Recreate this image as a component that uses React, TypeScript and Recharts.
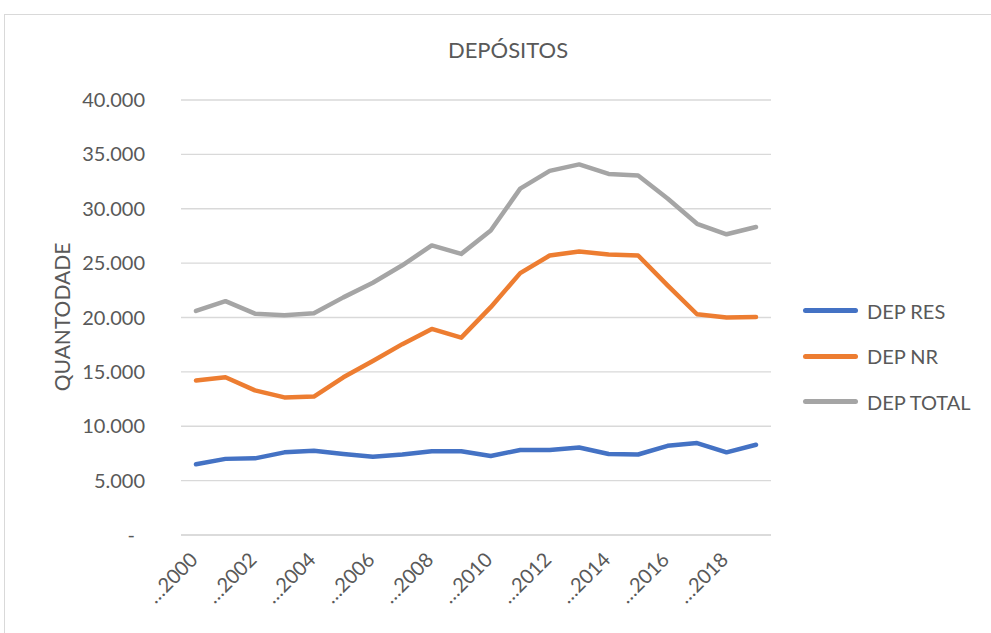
import React from 'react';
import { LineChart, Line, XAxis, YAxis, CartesianGrid, Label } from 'recharts';

const years = [
  '2000', '2001', '2002', '2003', '2004', '2005', '2006', '2007', '2008', '2009',
  '2010', '2011', '2012', '2013', '2014', '2015', '2016', '2017', '2018', '2019',
];
const depRes = [
  6500, 7000, 7050, 7600, 7750, 7450, 7200, 7400, 7700, 7700,
  7270, 7820, 7820, 8050, 7450, 7400, 8200, 8450, 7600, 8300,
];
const depNr = [
  14200, 14500, 13300, 12650, 12730, 14500, 16000, 17550, 18950, 18150,
  20950, 24080, 25700, 26070, 25800, 25700, 22950, 20300, 20000, 20050,
];
const depTotal = [
  20600, 21500, 20350, 20200, 20400, 21850, 23200, 24800, 26630, 25850,
  28000, 31850, 33480, 34080, 33200, 33050, 30950, 28620, 27650, 28320,
];
const yTicks = [0, 5000, 10000, 15000, 20000, 25000, 30000, 35000, 40000];

const series = [
  { key: 'res', name: 'DEP RES', color: '#4472c4' },
  { key: 'nr', name: 'DEP NR', color: '#ed7d31' },
  { key: 'total', name: 'DEP TOTAL', color: '#a5a5a5' },
];

const data = years.map((y, i) => ({
  year: y,
  res: depRes[i],
  nr: depNr[i],
  total: depTotal[i],
}));

const FONT = 'Lato, "Open Sans", sans-serif';
const TEXT = '#595959';

const fmt = (v: number) => {
  if (v === 0) return '-';
  return String(v).replace(/\B(?=(\d{3})+(?!\d))/g, '.');
};

const YTick = ({ x, y, payload }: any) => {
  const v = payload.value as number;
  return (
    <text
      x={v === 0 ? x - 38 : x - 28}
      y={y}
      dy={7}
      textAnchor="end"
      fill={TEXT}
      fontSize={20}
      fontFamily={FONT}
    >
      {fmt(v)}
    </text>
  );
};

const XTick = ({ x, y, payload }: any) => {
  const tx = x + 3;
  const ty = y + 18;
  return (
    <text
      x={tx}
      y={ty}
      textAnchor="end"
      transform={`rotate(-45, ${tx}, ${ty})`}
      fill={TEXT}
      fontSize={20}
      fontFamily={FONT}
    >
      {'\u2026' + payload.value}
    </text>
  );
};

const App = () => {
  return (
    <div
      style={{
        position: 'fixed',
        left: 0,
        top: 0,
        width: 991,
        height: 633,
        overflow: 'hidden',
        background: '#fff',
      }}
    >
      <div
        style={{
          position: 'absolute',
          left: 4,
          top: 14,
          width: 1100,
          height: 700,
          border: '1px solid #d9d9d9',
        }}
      />
      <div
        style={{
          position: 'absolute',
          left: 0,
          width: 1016,
          top: 36,
          textAlign: 'center',
          fontFamily: FONT,
          fontSize: 22,
          color: TEXT,
        }}
      >
        DEPÓSITOS
      </div>
      <div style={{ position: 'absolute', left: 0, top: 0 }}>
        <LineChart
          width={991}
          height={633}
          data={data}
          margin={{ top: 100, right: 220, bottom: 0, left: 0 }}
        >
          <CartesianGrid horizontal vertical={false} stroke="#d9d9d9" strokeWidth={1.3} />
          <XAxis
            dataKey="year"
            interval={1}
            height={98}
            padding={{ left: 15, right: 15 }}
            axisLine={{ stroke: '#d9d9d9', strokeWidth: 1.3 }}
            tickLine={false}
            tick={<XTick />}
          />
          <YAxis
            width={181}
            domain={[0, 40000]}
            ticks={yTicks}
            axisLine={false}
            tickLine={false}
            tick={<YTick />}
          >
            <Label
              content={() => (
                <text
                  x={70}
                  y={317}
                  transform="rotate(-90, 70, 317)"
                  textAnchor="middle"
                  fill={TEXT}
                  fontSize={21}
                  fontFamily={FONT}
                >
                  QUANTODADE
                </text>
              )}
            />
          </YAxis>
          {series.map((s) => (
            <Line
              key={s.key}
              type="linear"
              dataKey={s.key}
              name={s.name}
              stroke={s.color}
              strokeWidth={4.5}
              strokeLinejoin="round"
              strokeLinecap="round"
              dot={false}
              activeDot={false}
              isAnimationActive={false}
            />
          ))}
        </LineChart>
      </div>
      <div
        style={{
          position: 'absolute',
          left: 803,
          top: 288,
          fontFamily: FONT,
          fontSize: 20,
          color: TEXT,
        }}
      >
        {series.map((s) => (
          <div key={s.key} style={{ display: 'flex', alignItems: 'center', height: 45.5 }}>
            <div
              style={{
                width: 55,
                height: 5,
                borderRadius: 3,
                background: s.color,
                marginRight: 9,
              }}
            />
            <span>{s.name}</span>
          </div>
        ))}
      </div>
    </div>
  );
};

export default App;
